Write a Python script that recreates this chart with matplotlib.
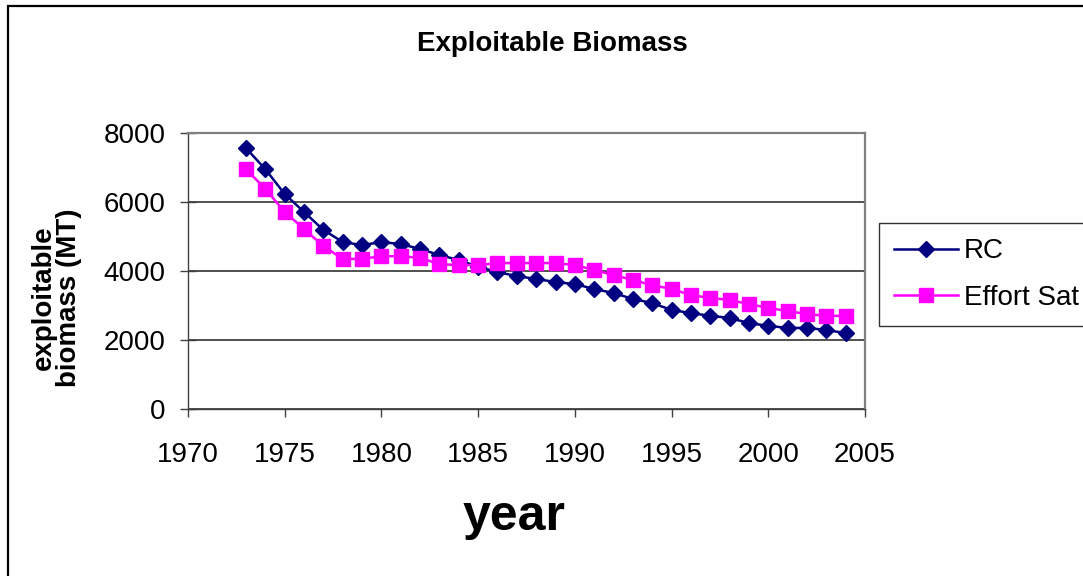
import numpy as np
import matplotlib
matplotlib.use("Agg")
import matplotlib.pyplot as plt
from matplotlib.patches import Rectangle

plt.rcParams["font.family"] = ["Liberation Sans", "DejaVu Sans"]

years = list(range(1973, 2005))
rc = [7560, 6950, 6230, 5710, 5190, 4840, 4750, 4840, 4780, 4640,
      4460, 4320, 4120, 3970, 3850, 3770, 3680, 3620, 3480, 3360,
      3190, 3070, 2870, 2780, 2700, 2640, 2490, 2410, 2350, 2350,
      2290, 2200]
effort_sat = [6950, 6380, 5710, 5220, 4720, 4350, 4350, 4430, 4430, 4380,
              4200, 4170, 4170, 4230, 4230, 4230, 4230, 4170, 4030, 3880,
              3740, 3590, 3480, 3300, 3220, 3160, 3040, 2930, 2840, 2750,
              2700, 2700]
x_ticks = [1970, 1975, 1980, 1985, 1990, 1995, 2000, 2005]
y_ticks = [0, 2000, 4000, 6000, 8000]

W, H = 1083, 576
fig = plt.figure(figsize=(W / 100, H / 100), dpi=100)
ax = fig.add_axes([188 / W, 1 - 409 / H, (865 - 188) / W, (409 - 133) / H])

ax.plot(years, rc, color="#000080", lw=1.8, marker="D", ms=8.6,
        mec="#000080", mfc="#000080", label="RC", zorder=3)
ax.plot(years, effort_sat, color="#ff00ff", lw=1.8, marker="s", ms=10.4,
        mec="#ff00ff", mfc="#ff00ff", label="Effort Sat", zorder=3)

ax.set_xlim(1970, 2005)
ax.set_ylim(0, 8000)
ax.set_xticks(x_ticks)
ax.set_yticks(y_ticks)
ax.yaxis.grid(True, color="#202020", lw=1.1)
ax.set_axisbelow(True)

ax.tick_params(axis="x", direction="out", length=6, width=1, pad=18,
               labelsize=20, color="#404040")
ax.tick_params(axis="y", direction="inout", length=12, width=1, pad=10,
               labelsize=20, color="#404040")
for side in ["top", "right"]:
    ax.spines[side].set_color("#808080")
    ax.spines[side].set_linewidth(1.6)
for side in ["left", "bottom"]:
    ax.spines[side].set_color("#404040")
    ax.spines[side].set_linewidth(1.0)

fig.text(552 / W, 1 - 44 / H, "Exploitable Biomass", ha="center",
         va="center", fontsize=20, fontweight="bold")
fig.text(56 / W, 1 - 298 / H, "exploitable\nbiomass (MT)", rotation=90,
         ha="center", va="center", fontsize=20, fontweight="bold",
         multialignment="center", linespacing=0.95)
fig.text(514 / W, 1 - 517 / H, "year", ha="center", va="center",
         fontsize=36, fontweight="bold")

leg = fig.legend(loc="upper left", bbox_to_anchor=(879 / W, 1 - 223 / H),
                 fontsize=20, frameon=True, fancybox=False,
                 handlelength=2.3, handletextpad=0.2, labelspacing=0.75,
                 borderpad=0.55, borderaxespad=0)
leg.get_frame().set_edgecolor("black")
leg.get_frame().set_linewidth(1.0)

fig.add_artist(Rectangle((8 / W, -0.1), 2, 1.1 - 6 / H, transform=fig.transFigure,
                         fill=False, edgecolor="black", lw=1.6))

fig.savefig("out.png", dpi=100)
